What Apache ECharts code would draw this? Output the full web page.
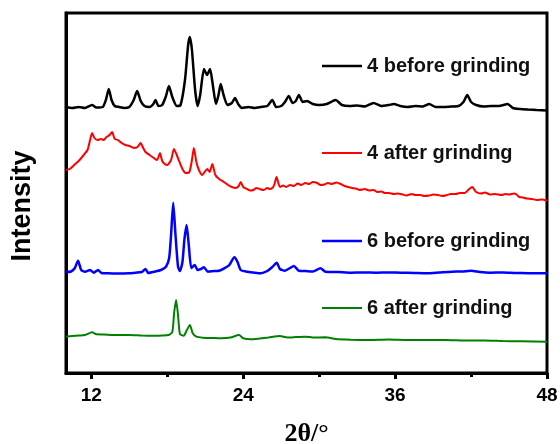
<!DOCTYPE html>
<html>
<head>
<meta charset="utf-8">
<script src="https://cdn.jsdelivr.net/npm/echarts@6/dist/echarts.min.js"></script>
<style>
  html, body { margin: 0; padding: 0; background: #fff; }
  #chart { width: 560px; height: 444px; }
</style>
</head>
<body>
<div id="chart"></div>
<script>
// 2theta / intensity (arbitrary units, traces already stacked)
const before4X = [10.0,10.5,11.0,11.5,12.06,12.4,12.9,13.15,13.38,13.6,13.85,14.2,14.6,15.0,15.35,15.62,15.9,16.2,16.6,16.9,17.07,17.3,17.6,17.9,18.13,18.4,18.75,19.05,19.4,19.65,19.79,19.95,20.2,20.4,20.6,20.9,21.15,21.38,21.6,21.85,22.05,22.22,22.45,22.75,23.1,23.35,23.6,23.9,24.4,24.9,25.4,25.9,26.3,26.6,27.0,27.3,27.6,27.9,28.15,28.4,28.7,29.05,29.5,30.0,30.6,31.3,31.8,32.4,33.0,33.6,34.3,34.9,35.5,35.9,36.4,37.0,37.6,38.2,38.7,39.2,39.8,40.4,41.0,41.4,41.7,42.0,42.4,43.0,43.6,44.2,44.9,45.3,45.9,46.5,47.2,48.0];
const before4Y = [266,265,266,265,268,265.5,266,273,284,273,267,266,265,266,273,282,272,267,266,269,273,267,268,277,287,276,267,268,293,328,336,323,283,267,278,304,298,304,288,269,278,289,278,268,270,275,269,265,266,265,266,267,273,266,267,271,277,270,272,278,271,272,269,268,269,273,268,267,267.5,266.5,270,267,268,269,267,266,267,266.5,269,266,266,266.5,267,271,278,271,268,266.5,267,267,269,265,264,263.5,263,262.5];

const after4X = [10.0,10.3,10.65,11.0,11.4,11.7,11.9,12.06,12.25,12.5,12.75,12.98,13.2,13.45,13.64,13.85,14.1,14.4,14.7,15.0,15.36,15.65,15.89,16.1,16.28,16.6,16.94,17.2,17.42,17.6,17.8,18.0,18.3,18.53,18.75,19.0,19.2,19.45,19.75,19.95,20.1,20.3,20.5,20.77,20.95,21.16,21.35,21.56,21.8,22.1,22.48,22.8,23.1,23.4,23.65,23.8,24.0,24.3,24.55,24.8,25.05,25.3,25.6,25.9,26.1,26.3,26.45,26.63,26.8,26.9,27.15,27.4,27.7,28.0,28.3,28.6,28.9,29.2,29.5,29.85,30.1,30.4,30.7,31.0,31.35,31.7,32.0,32.3,32.6,32.9,33.2,33.6,33.95,34.3,34.6,34.9,35.2,35.5,35.9,36.2,36.6,36.9,37.3,37.6,38.0,38.3,38.7,39.0,39.4,39.7,40.1,40.4,40.8,41.1,41.5,41.85,42.1,42.4,42.8,43.1,43.5,43.9,44.4,44.7,45.0,45.4,45.6,45.8,46.1,46.4,46.8,47.2,47.6,48.0];
const after4Y = [203,204,208,212,218,223,233,240,235,233,234,233,236,238,241,234,233,230,228,227,225,226,230,225,221,218,215,213,220,212,209,208,213,224,218,210,204,200,201,213,225,211,203,198,201,204,201,209,198,194,191,188,186,185,187,191,186,184,182.5,183,185,184,183,185,184,185,188,196,189,186,187.5,186,188,187,189.5,188,190,189,191,190,188,188.5,190,189,190.5,189,187,186,185,184.5,183,184,182.5,183,181,181.5,180,180,179,179.5,178.5,177.5,179,178,178,177,177.5,178.5,178,177,178,179,179,180,180,184,186,181,179.5,180.5,178.5,179,178,179,178.5,179.5,178.5,176,175.5,174.5,174,173,173.5,172.3];

const before6X = [10.0,10.4,10.7,10.95,11.2,11.5,11.9,12.2,12.53,12.8,13.3,14.0,14.96,15.5,16.0,16.28,16.5,17.0,17.5,17.9,18.15,18.3,18.47,18.65,18.85,19.0,19.2,19.35,19.53,19.7,19.9,20.17,20.4,20.65,20.9,21.2,21.7,22.1,22.5,22.9,23.3,23.55,23.8,24.3,24.8,25.4,25.9,26.3,26.65,26.9,27.3,27.7,28.0,28.4,28.9,29.5,30.1,30.5,31.5,32.5,33.5,34.5,35.5,36.5,37.5,38.5,39.5,40.5,41.3,42.0,42.7,43.5,44.5,45.5,46.5,48.0];
const before6Y = [101,101.5,105,112.3,103,101.3,103,100.3,103,100,99.7,99.5,99.7,100.3,101,104,100,101.3,103,106.3,115,138,170.3,138,106.3,102,111,133,148,128,105,108,103,104,105.7,101.3,102,102.3,104.7,108,115.7,111,103,101.3,100.5,99.7,102,106,110.3,104,102.3,105,107,102.3,102,101.5,104.7,101.3,101,100.3,100.5,100.3,100.5,100.3,100,99.7,100.5,101.3,101.5,102.3,101,100.3,100.5,100,99.8,99.7];

const after6X = [10.0,10.5,11.0,11.5,12.06,12.4,13.0,14.0,15.0,16.0,17.0,17.6,18.1,18.4,18.55,18.7,18.85,19.0,19.3,19.55,19.79,20.0,20.3,20.8,21.5,22.3,23.0,23.67,24.0,24.6,25.3,26.0,26.9,27.5,28.2,28.9,29.5,30.5,31.3,32.5,34.0,35.5,37.0,38.5,40.0,41.5,43.0,44.5,46.0,48.0];
const after6Y = [36.3,37,37.5,38,40.7,38.7,38.5,38,38,37.5,37.3,37.5,38,41,61,73,58,39,37.3,43,48,40,36.3,35.3,35,34.7,35.5,38,34.7,33.7,34.5,35.5,37,35.5,36,36.3,35.5,35.7,34,33.3,33,33.5,33,33,33,32.5,32.5,32,31.7,31.3];

const names = ['4 before grinding', '4 after grinding', '6 before grinding', '6 after grinding'];
const colors = ['#000000', '#ff0000', '#0000ff', '#008000'];
const widths = [2.5, 2, 2.5, 2];
const legendTops = [56, 143, 231, 298];

const xLabelTicks = [12, 24, 36, 48];
const xMinorTicks = [18, 30, 42];

function pairs(xs, ys) {
  return xs.map((x, i) => [x, ys[i]]);
}

const traces = [pairs(before4X, before4Y), pairs(after4X, after4Y), pairs(before6X, before6Y), pairs(after6X, after6Y)];

const chart = echarts.init(document.getElementById('chart'));

const series = traces.map((d, i) => ({
  name: names[i],
  type: 'line',
  data: d,
  showSymbol: false,
  smooth: 0.2,
  lineStyle: {color: colors[i], width: widths[i]},
  itemStyle: {color: colors[i]},
  animation: false
}));

const legends = names.map((n, i) => ({
  data: [n],
  left: 322,
  top: legendTops[i],
  padding: 0,
  icon: 'rect',
  itemWidth: 40,
  itemHeight: widths[i],
  textStyle: {fontFamily: 'Liberation Sans, Arial', fontWeight: 'bold', fontSize: 20, color: '#111'},
  selectedMode: false
}));

chart.setOption({
  backgroundColor: '#fff',
  animation: false,
  legend: legends,
  grid: {left: 66, right: 13, top: 13, bottom: 71, show: true, borderColor: '#000', borderWidth: 3, containLabel: false, outerBoundsMode: 'none'},
  graphic: [{
    type: 'text',
    x: 23, y: 206,
    rotation: Math.PI / 2,
    style: {text: 'Intensity', fontFamily: 'Liberation Sans, Arial', fontWeight: 'bold', fontSize: 27, fill: '#000', align: 'center', verticalAlign: 'middle'}
  }],
  xAxis: [{
    type: 'value', min: 10, max: 48,
    name: '2θ/°', nameLocation: 'middle', nameGap: 48,
    nameTextStyle: {fontFamily: 'Liberation Serif, Times New Roman', fontWeight: 'bold', fontSize: 26, color: '#000'},
    axisLine: {show: true, lineStyle: {color: '#000', width: 3}},
    axisTick: {show: true, customValues: xLabelTicks, length: 6, lineStyle: {color: '#000', width: 3}},
    axisLabel: {customValues: xLabelTicks, margin: 13, fontFamily: 'Liberation Sans, Arial', fontWeight: 'bold', fontSize: 19, color: '#000'},
    splitLine: {show: false}
  }, {
    type: 'value', min: 10, max: 48, position: 'bottom',
    axisLine: {show: false},
    axisTick: {show: true, customValues: xMinorTicks, length: 4, lineStyle: {color: '#000', width: 3}},
    axisLabel: {show: false},
    splitLine: {show: false}
  }],
  yAxis: {
    type: 'value', min: 0, max: 360,
    axisLine: {show: true, lineStyle: {color: '#000', width: 3}},
    axisTick: {show: false},
    axisLabel: {show: false},
    splitLine: {show: false}
  },
  series: series
});
</script>
</body>
</html>
